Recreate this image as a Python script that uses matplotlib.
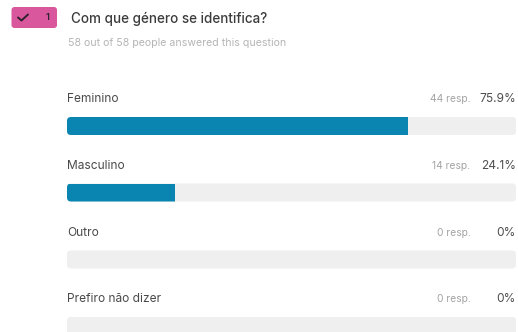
import matplotlib
matplotlib.use('Agg')
import matplotlib.pyplot as plt
from matplotlib.patches import FancyBboxPatch

plt.rcParams['font.family'] = ['Inter', 'DejaVu Sans']

question = 'Com que género se identifica?'
answered = '58 out of 58 people answered this question'
categories = ['Feminino', 'Masculino', 'Outro', 'Prefiro não dizer']
responses = [44, 14, 0, 0]
percents = [75.9, 24.1, 0, 0]
percent_labels = ['75.9%', '24.1%', '0%', '0%']

W, H = 518, 332
fig = plt.figure(figsize=(W / 100, H / 100), dpi=100, facecolor='white')

# Overlay in pixel units for the header and the labels
page = fig.add_axes([0, 0, 1, 1])
page.set_xlim(0, W)
page.set_ylim(H, 0)
page.axis('off')

# Bars run on a 0-100 percent scale, y stays in pixels
left, right = 67, 516
ax = fig.add_axes([left / W, 0, (right - left) / W, 1])
ax.set_xlim(0, 100)
ax.set_ylim(H, 0)
ax.axis('off')

tops = [117, 183.5, 250.5, 317]
bar_h = 18
px_per_pct = (right - left) / 100
radius = 4

for top, name, count, pct, pct_label in zip(tops, categories, responses, percents, percent_labels):
    track = FancyBboxPatch((0, top), 100, bar_h,
                           boxstyle=f'round,pad=0,rounding_size={radius / px_per_pct}',
                           mutation_aspect=px_per_pct,
                           facecolor='#efefef', edgecolor='none', clip_on=True)
    ax.add_patch(track)
    if pct > 0:
        bars = ax.barh(top + bar_h / 2, pct, height=bar_h, color='#0a85b1', edgecolor='none')
        bars[0].set_clip_path(track)

    mid = top - 17.5
    page.text(67, mid, name, fontsize=8.6, color='#4a4a4a', va='center', ha='left')
    page.text(470.5, mid, f'{count} resp.', fontsize=7.4, color='#a3a3a3', va='center', ha='right')
    page.text(516, mid, pct_label, fontsize=8.6, color='#4f4f4f', va='center', ha='right')

# Pink question badge with tick and number
badge = FancyBboxPatch((11.5, 7), 45.5, 21, boxstyle='round,pad=0,rounding_size=3',
                       facecolor='#d9579c', edgecolor='none')
page.add_patch(badge)
page.plot([18, 21.5, 28], [17.5, 20.5, 14.5], color='#2e2230', lw=1.4,
          solid_capstyle='round', solid_joinstyle='round')
page.text(48, 18, '1', fontsize=6.8, color='#2e2230', fontweight='semibold', va='center', ha='center')

page.text(71, 18.5, question, fontsize=9.7, color='#3c3c3c', fontweight='medium', va='center', ha='left')
page.text(68, 43.5, answered, fontsize=7.6, color='#b5b5b5', va='center', ha='left')

fig.savefig('out.png', dpi=100, facecolor='white')
plt.close(fig)
